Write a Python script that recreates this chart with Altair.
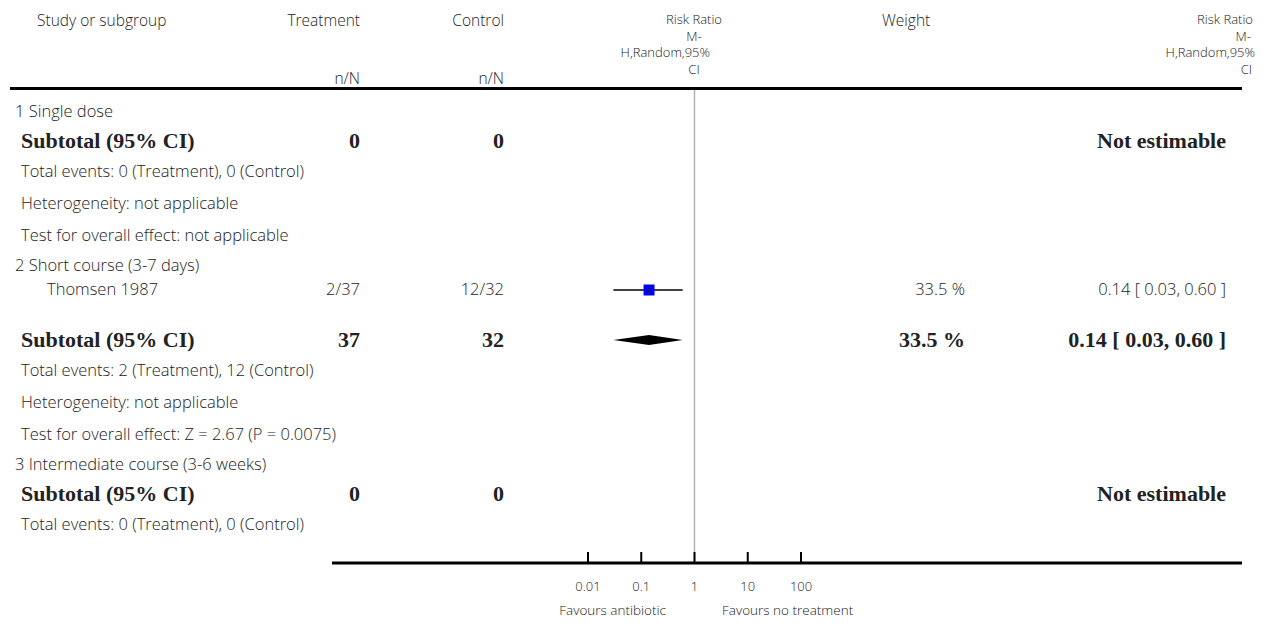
import altair as alt
import pandas as pd

W, H = 1250, 611

# ---------------- data ----------------
study_labels = [
    "1 Single dose",
    "Subtotal (95% CI)",
    "Total events: 0 (Treatment), 0 (Control)",
    "Heterogeneity: not applicable",
    "Test for overall effect: not applicable",
    "2 Short course (3-7 days)",
    "Thomsen 1987",
    "Subtotal (95% CI)",
    "Total events: 2 (Treatment), 12 (Control)",
    "Heterogeneity: not applicable",
    "Test for overall effect: Z = 2.67 (P = 0.0075)",
    "3 Intermediate course (3-6 weeks)",
    "Subtotal (95% CI)",
    "Total events: 0 (Treatment), 0 (Control)",
]
row_kind = ["group", "subtotal", "note", "note", "note",
            "group", "study", "subtotal", "note", "note", "note",
            "group", "subtotal", "note"]
treatment_col = ["", "0", "", "", "", "", "2/37", "37", "", "", "", "", "0", ""]
control_col = ["", "0", "", "", "", "", "12/32", "32", "", "", "", "", "0", ""]
weight_col = ["", "", "", "", "", "", "33.5 %", "33.5 %", "", "", "", "", "", ""]
rr_col = ["", "Not estimable", "", "", "", "", "0.14 [ 0.03, 0.60 ]",
          "0.14 [ 0.03, 0.60 ]", "", "", "", "", "Not estimable", ""]

# study estimates (row index 6) and pooled subtotal (row index 7)
study_rows = [6]
study_est = [0.14]
study_lo = [0.03]
study_hi = [0.60]
subtotal_rows = [7]
subtotal_est = [0.14]
subtotal_lo = [0.03]
subtotal_hi = [0.60]

tick_values = [0.01, 0.1, 1, 10, 100]
tick_labels = ["0.01", "0.1", "1", "10", "100"]

# ---------------- layout (pixel rows) ----------------
pitch = {("group", "subtotal"): 29, ("group", "study"): 24, ("study", "subtotal"): 50,
         ("subtotal", "note"): 31, ("note", "note"): 32, ("note", "group"): 30}
ypos = [104]
for a, b in zip(row_kind[:-1], row_kind[1:]):
    ypos.append(ypos[-1] + pitch[(a, b)])

rows = pd.DataFrame({
    "label": study_labels, "kind": row_kind, "treat": treatment_col,
    "ctrl": control_col, "weight": weight_col, "rr": rr_col, "y": ypos,
})

REG = "Open Sans"
RW = 300
SERIF = "Liberation Serif"
TXT = "#222222"
RS = 16.5
BS = 22

yscale = alt.Scale(domain=[0, H], range=[0, H])
xlog = alt.Scale(type="log", domain=[0.01, 100], range=[578, 791])


def text_layer(df, field, xpx, align, font, size, weight):
    return alt.Chart(df).mark_text(
        align=align, baseline="middle", font=font, fontSize=size,
        fontWeight=weight, color=TXT,
    ).encode(
        x=alt.value(xpx),
        y=alt.Y("y:Q", scale=yscale, axis=None),
        text=f"{field}:N",
    )


layers = []
grp = rows[rows.kind == "group"]
sub = rows[rows.kind == "subtotal"]
note = rows[rows.kind == "note"]
std = rows[rows.kind == "study"]

layers.append(text_layer(grp, "label", 5, "left", REG, RS, RW))
layers.append(text_layer(note, "label", 11, "left", REG, RS, RW))
layers.append(text_layer(std, "label", 37, "left", REG, RS, RW))
layers.append(text_layer(sub, "label", 11, "left", SERIF, BS, "bold"))
layers.append(text_layer(std, "treat", 350, "right", REG, RS, RW))
layers.append(text_layer(std, "ctrl", 494, "right", REG, RS, RW))
layers.append(text_layer(std, "weight", 955, "right", REG, RS, RW))
layers.append(text_layer(std, "rr", 1216, "right", REG, RS, RW))
layers.append(text_layer(sub, "treat", 350, "right", SERIF, BS, "bold"))
layers.append(text_layer(sub, "ctrl", 494, "right", SERIF, BS, "bold"))
layers.append(text_layer(sub, "weight", 955, "right", SERIF, BS, "bold"))
layers.append(text_layer(sub, "rr", 1216, "right", SERIF, BS, "bold"))

# ---------------- header ----------------
header = pd.DataFrame({
    "text": ["Study or subgroup", "Treatment", "Control", "Weight",
             "n/N", "n/N"],
    "y": [13, 13, 13, 13, 71, 71],
    "xp": [27, 350, 494, 872, 350, 494],
    "al": ["left", "right", "right", "left", "right", "right"],
})
for al in ["left", "right"]:
    sub_h = header[header.al == al]
    layers.append(
        alt.Chart(sub_h).mark_text(align=al, baseline="middle", font=REG, fontSize=15.5,
                                   fontWeight=RW, color=TXT)
        .encode(x=alt.X("xp:Q", scale=alt.Scale(domain=[0, W], range=[0, W]), axis=None),
                y=alt.Y("y:Q", scale=yscale, axis=None), text="text:N")
    )

stack = pd.DataFrame({
    "text": ["Risk Ratio", "M-", "H,Random,95%", "CI",
             "Risk Ratio", "M-", "H,Random,95%", "CI"],
    "y": [12, 28.5, 45, 61.5, 12, 28.5, 45, 61.5],
    "xp": [684, 684, 700, 684, 1243, 1241, 1245, 1242],
    "al": ["center", "center", "right", "center", "right", "right", "right", "right"],
})
for al in ["right", "center"]:
    sub_h = stack[stack.al == al]
    layers.append(
        alt.Chart(sub_h).mark_text(align=al, baseline="middle", font=REG, fontSize=13,
                                   fontWeight=RW, color=TXT)
        .encode(x=alt.X("xp:Q", scale=alt.Scale(domain=[0, W], range=[0, W]), axis=None),
                y=alt.Y("y:Q", scale=yscale, axis=None), text="text:N")
    )

# ---------------- lines ----------------
dummy = pd.DataFrame({"a": [0]})
layers.append(alt.Chart(dummy).mark_rule(color="black", strokeWidth=3).encode(
    x=alt.value(0), x2=alt.value(1232), y=alt.value(80.5)))
layers.append(alt.Chart(dummy).mark_rule(color="black", strokeWidth=3).encode(
    x=alt.value(322), x2=alt.value(1232), y=alt.value(555)))

# reference line at 1
ref = pd.DataFrame({"v": [1], "y0": [82], "y1": [554]})
layers.append(alt.Chart(ref).mark_rule(color="#b5b5b5", strokeWidth=1.5).encode(
    x=alt.X("v:Q", scale=xlog, axis=None),
    y=alt.Y("y0:Q", scale=yscale, axis=None), y2="y1:Q"))

# ticks
ticks = pd.DataFrame({"v": tick_values, "lab": tick_labels,
                      "y0": [544] * 5, "y1": [555] * 5, "yl": [579] * 5})
layers.append(alt.Chart(ticks).mark_rule(color="black", strokeWidth=2).encode(
    x=alt.X("v:Q", scale=xlog, axis=None),
    y=alt.Y("y0:Q", scale=yscale, axis=None), y2="y1:Q"))
layers.append(alt.Chart(ticks).mark_text(font=REG, fontSize=13, fontWeight=RW, color=TXT,
                                         baseline="middle").encode(
    x=alt.X("v:Q", scale=xlog, axis=None),
    y=alt.Y("yl:Q", scale=yscale, axis=None), text="lab:N"))

fav = pd.DataFrame({"t": ["Favours antibiotic"], "y": [603]})
fav2 = pd.DataFrame({"t": ["Favours no treatment"], "y": [603]})
layers.append(alt.Chart(fav).mark_text(font=REG, fontSize=13.5, fontWeight=RW, color=TXT,
                                       align="right", baseline="middle").encode(
    x=alt.value(656), y=alt.Y("y:Q", scale=yscale, axis=None), text="t:N"))
layers.append(alt.Chart(fav2).mark_text(font=REG, fontSize=13.5, fontWeight=RW, color=TXT,
                                        align="left", baseline="middle").encode(
    x=alt.value(712), y=alt.Y("y:Q", scale=yscale, axis=None), text="t:N"))

# ---------------- forest marks ----------------
sy = [ypos[i] for i in study_rows]
sdf = pd.DataFrame({"est": study_est, "lo": study_lo, "hi": study_hi, "y": sy})
layers.append(alt.Chart(sdf).mark_rule(color="black", strokeWidth=1.5).encode(
    x=alt.X("lo:Q", scale=xlog, axis=None), x2="hi:Q",
    y=alt.Y("y:Q", scale=yscale, axis=None)))
layers.append(alt.Chart(sdf).mark_square(color="#0000ff", opacity=1, size=121).encode(
    x=alt.X("est:Q", scale=xlog, axis=None),
    y=alt.Y("y:Q", scale=yscale, axis=None)))
layers.append(alt.Chart(sdf).mark_rule(color="#222222", strokeWidth=1.5).encode(
    x=alt.X("est:Q", scale=xlog, axis=None),
    y=alt.Y("y0:Q", scale=yscale, axis=None), y2="y1:Q").transform_calculate(
    y0="datum.y - 3", y1="datum.y + 3"))

# diamond for subtotal
dia_rows = []
for r, e, lo, hi in zip(subtotal_rows, subtotal_est, subtotal_lo, subtotal_hi):
    yc = ypos[r]
    dia_rows += [{"x": lo, "top": yc, "bot": yc},
                 {"x": e, "top": yc - 5, "bot": yc + 5},
                 {"x": hi, "top": yc, "bot": yc}]
ddf = pd.DataFrame(dia_rows)
layers.append(alt.Chart(ddf).mark_area(color="black", opacity=1).encode(
    x=alt.X("x:Q", scale=xlog, axis=None),
    y=alt.Y("top:Q", scale=yscale, axis=None), y2="bot:Q"))

chart = alt.layer(*layers).resolve_scale(x="independent").properties(
    width=W, height=H, padding=0,
    autosize=alt.AutoSizeParams(type="fit", contains="padding"),
).configure_view(stroke=None)

chart.save("out.html", embed_options={"renderer": "svg", "actions": False})
